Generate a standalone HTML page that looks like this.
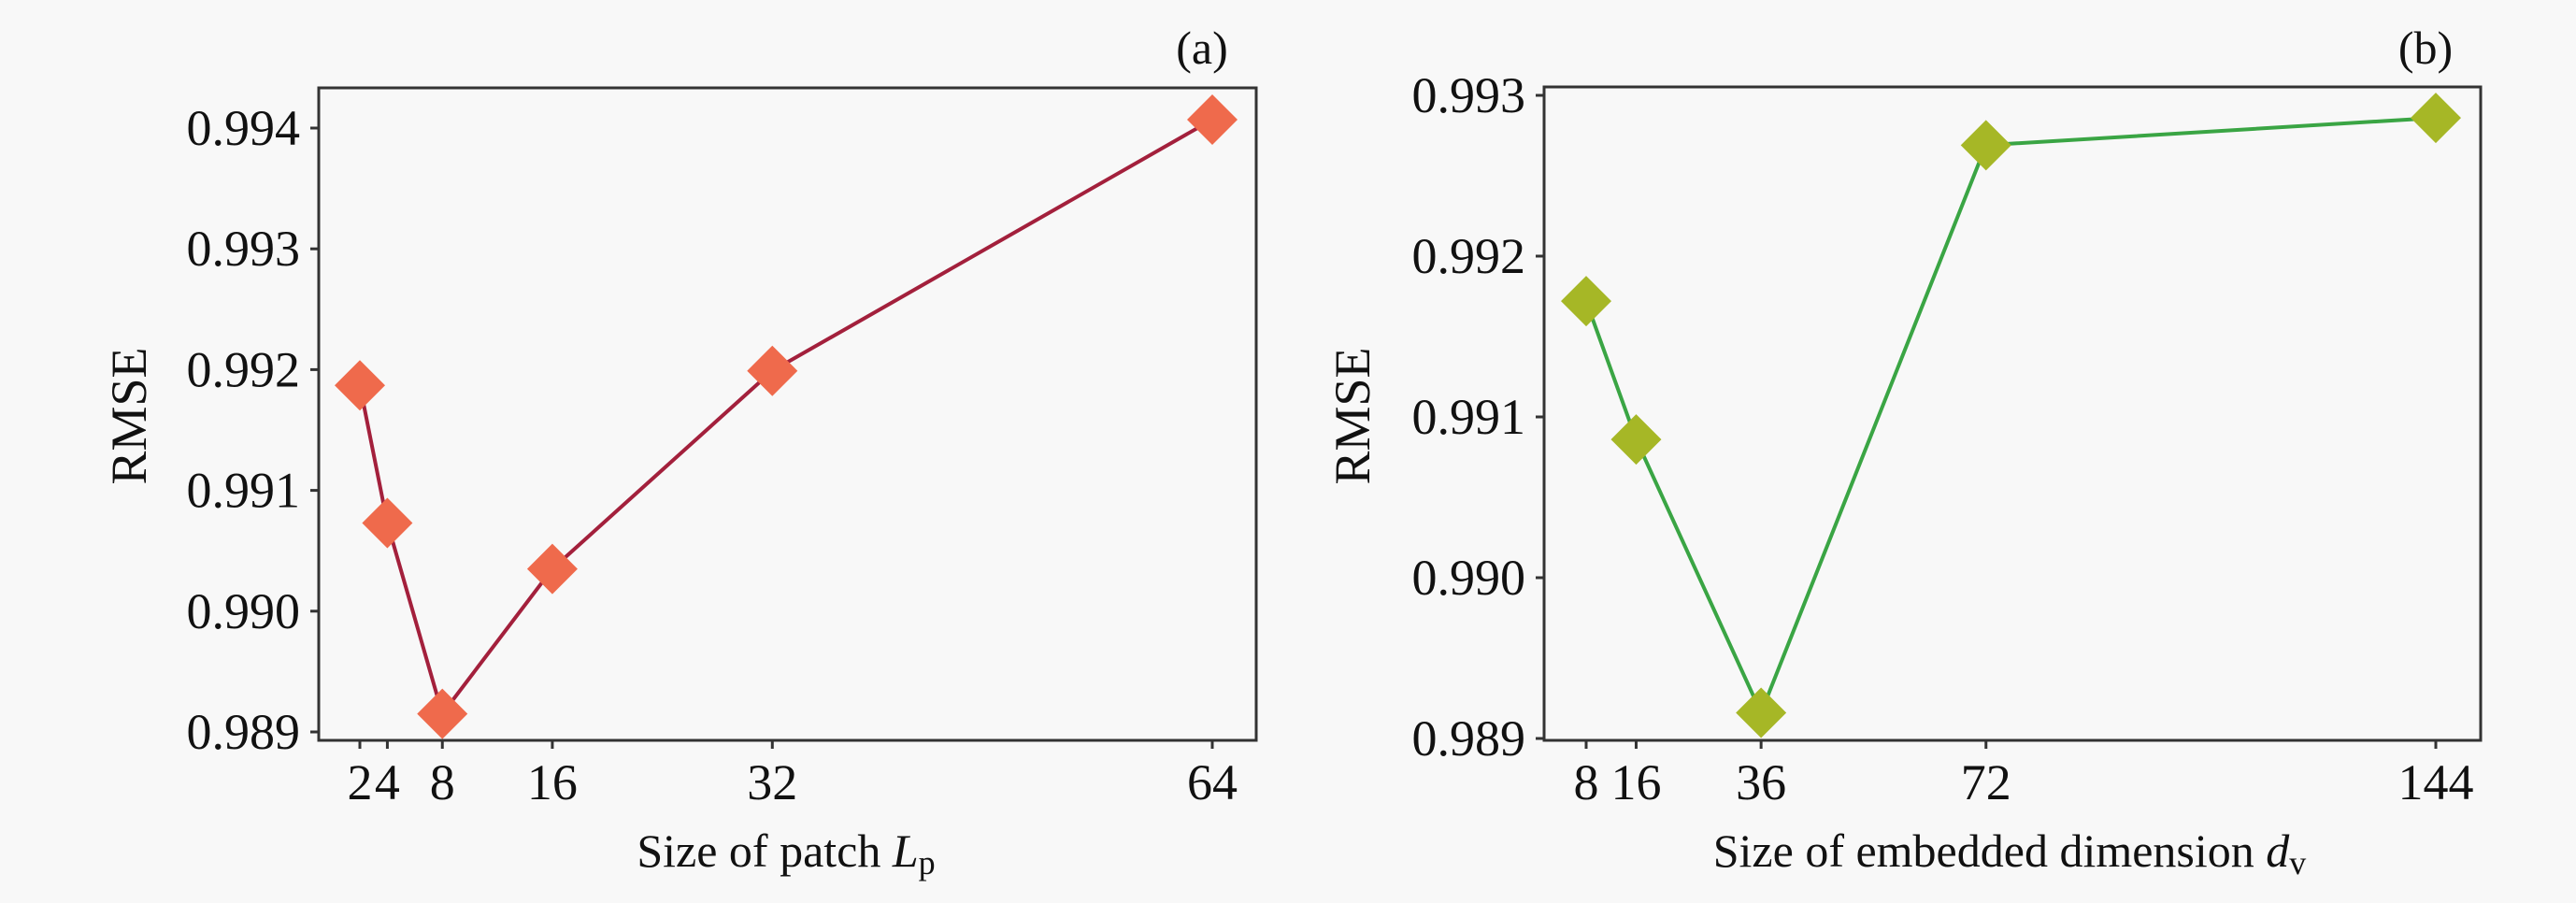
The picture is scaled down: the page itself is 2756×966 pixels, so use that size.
<!DOCTYPE html>
<html><head><meta charset="utf-8">
<style>
html,body{margin:0;padding:0;background:#f8f8f8;}
svg{display:block;font-family:"Liberation Serif",serif;}
</style></head>
<body>
<svg id="fig" width="2756" height="966" viewBox="0 0 2756 966" xmlns="http://www.w3.org/2000/svg">
<rect x="0" y="0" width="2756" height="966" fill="#f8f8f8"/>
<g id="pa"></g>
<g id="pb"></g>
</svg>
<script>
const catsA = [2, 4, 8, 16, 32, 64];
const valsA = [0.99187, 0.99073, 0.98915, 0.99035, 0.99199, 0.99407];
const yTicksA = [0.989, 0.990, 0.991, 0.992, 0.993, 0.994];
const catsB = [8, 16, 36, 72, 144];
const valsB = [0.99172, 0.99086, 0.98916, 0.99269, 0.99286];
const yTicksB = [0.989, 0.990, 0.991, 0.992, 0.993];

const NS = "http://www.w3.org/2000/svg";
function mk(parent, tag, attrs, text) {
  const e = document.createElementNS(NS, tag);
  for (const k in attrs) e.setAttribute(k, attrs[k]);
  if (text !== undefined) e.textContent = text;
  parent.appendChild(e);
  return e;
}

function drawPanel(g, cfg, cats, vals, yTicks) {
  const xS = v => cfg.x0px + (v - cfg.x0v) * (cfg.x1px - cfg.x0px) / (cfg.x1v - cfg.x0v);
  const yS = v => cfg.y0px + (v - cfg.y0v) * (cfg.y1px - cfg.y0px) / (cfg.y1v - cfg.y0v);
  const f = mk(g, 'rect', {x: cfg.L, y: cfg.T, width: cfg.R - cfg.L, height: cfg.B - cfg.T, fill: 'none', stroke: '#333', 'stroke-width': 3});
  
  
  yTicks.forEach(t => {
    const y = yS(t);
    const tk = mk(g, 'line', {x1: cfg.L - 9, x2: cfg.L, y1: y, y2: y, stroke: '#333', 'stroke-width': 3});
    
    
    const lb = mk(g, 'text', {x: cfg.L - 20, y: y + 18, 'font-size': 54, 'text-anchor': 'end', fill: '#111'}, t.toFixed(3));
    
    
  });
  cats.forEach(c => {
    const x = xS(c);
    const tk = mk(g, 'line', {x1: x, x2: x, y1: cfg.B, y2: cfg.B + 9, stroke: '#333', 'stroke-width': 3});
    
    
    const lb = mk(g, 'text', {x: x, y: 855, 'font-size': 54, 'text-anchor': 'middle', fill: '#111'}, String(c));
    
    
  });
  const pts = cats.map((c, i) => xS(c) + ',' + yS(vals[i])).join(' ');
  const ln = mk(g, 'polyline', {points: pts, fill: 'none', stroke: cfg.line, 'stroke-width': 4});
  
  
  cats.forEach((c, i) => {
    const x = xS(c), y = yS(vals[i]), h = 27;
    const m = mk(g, 'polygon', {points: `${x},${y-h} ${x+h},${y} ${x},${y+h} ${x-h},${y}`, fill: cfg.marker});
    
    
  });
  const yt = mk(g, 'text', {x: 0, y: 0, 'font-size': 54, 'text-anchor': 'middle', fill: '#111', transform: `translate(${cfg.ytx},${cfg.yty}) rotate(-90)`}, 'RMSE');
  
  
  const xt = mk(g, 'text', {x: cfg.xtx, y: 927, 'font-size': 50, 'text-anchor': 'middle', fill: '#111'});
  
  
  mk(xt, 'tspan', {}, cfg.xtitle);
  mk(xt, 'tspan', {'font-style': 'italic'}, cfg.sym);
  mk(xt, 'tspan', {'font-size': 36, dy: 8}, cfg.sub);
  const pl = mk(g, 'text', {x: cfg.plx, y: 68, 'font-size': 50, 'text-anchor': 'middle', fill: '#111'}, cfg.panel);
  
  
}

drawPanel(document.getElementById('pa'),
  {L: 341, R: 1344, T: 94, B: 792, x0v: 2, x0px: 385, x1v: 64, x1px: 1297,
   y0v: 0.989, y0px: 783, y1v: 0.994, y1px: 137, line: '#a3203c', marker: '#ef6a4c',
   ytx: 156, yty: 445, xtx: 841, xtitle: 'Size of patch ', sym: 'L', sub: 'p', plx: 1286, panel: '(a)'},
  catsA, valsA, yTicksA);
drawPanel(document.getElementById('pb'),
  {L: 1652, R: 2654, T: 93, B: 792, x0v: 8, x0px: 1697, x1v: 144, x1px: 2606,
   y0v: 0.989, y0px: 790, y1v: 0.993, y1px: 102, line: '#3aa544', marker: '#a6b726',
   ytx: 1465, yty: 445, xtx: 2150, xtitle: 'Size of embedded dimension ', sym: 'd', sub: 'v', plx: 2595, panel: '(b)'},
  catsB, valsB, yTicksB);
</script>
</body></html>
